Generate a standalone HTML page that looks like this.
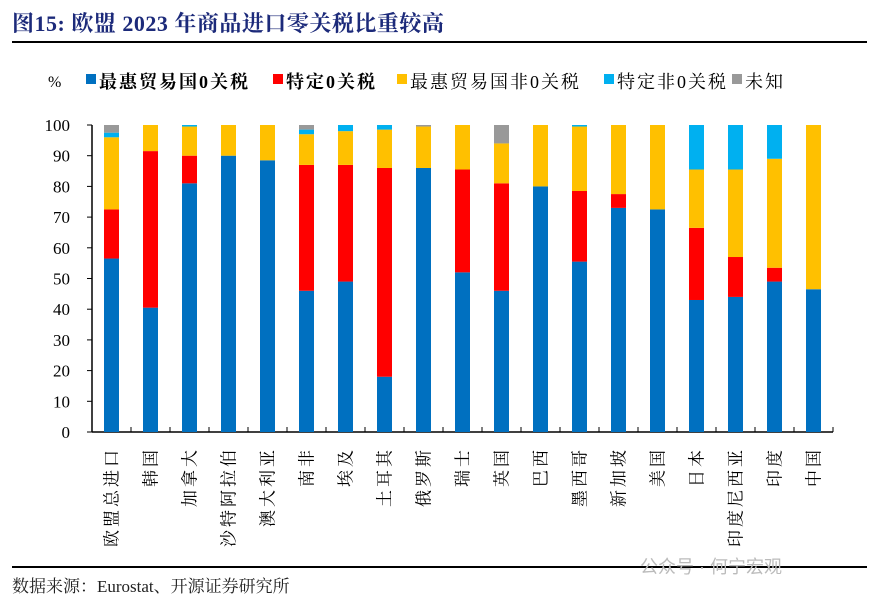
<!DOCTYPE html>
<html><head><meta charset="utf-8">
<style>
body{margin:0;background:#fff;}
svg{display:block;font-family:"Liberation Serif","Noto Serif CJK SC",serif;}
</style></head>
<body>
<svg id="chart" width="870" height="600" viewBox="0 0 870 600">
<text x="12" y="31" font-size="22" font-weight="bold" fill="#1c2a7a" letter-spacing="0.5">图15:  欧盟 2023 年商品进口零关税比重较高</text>
<rect x="12" y="41" width="855" height="2" fill="#000"/>
<g id="legend"></g>
<g id="plot"></g>
<rect x="12" y="566" width="855" height="2" fill="#000"/>
<text x="12" y="592" font-size="17" fill="#222">数据来源：Eurostat、开源证券研究所</text>
<text x="640" y="573" font-size="18" fill="#bbb" font-family="Liberation Sans,Noto Sans CJK SC,sans-serif">公众号 · 何宁宏观</text>
</svg>
<script>
const categories=["欧盟总进口","韩国","加拿大","沙特阿拉伯","澳大利亚","南非","埃及","土耳其","俄罗斯","瑞士","英国","巴西","墨西哥","新加坡","美国","日本","印度尼西亚","印度","中国"];
const mfnZero=[56.5,40.5,81,90,88.5,46,49,18,86,52,46,80,55.5,73,72.5,43,44,49,46.5];
const prefZero=[16,51,9,0,0,41,38,68,0,33.5,35,0,23,4.5,0,23.5,13,4.5,0];
const mfnNonZero=[23.5,8.5,9.5,10,11.5,10,11,12.5,13.5,14.5,13,20,21,22.5,27.5,19,28.5,35.5,53.5];
const prefNonZero=[1.5,0,0.5,0,0,1.5,2,1.5,0,0,0,0,0.5,0,0,14.5,14.5,11,0];
const unknown=[2.5,0,0,0,0,1.5,0,0,0.5,0,6,0,0,0,0,0,0,0,0];
const seriesNames=["最惠贸易国0关税","特定0关税","最惠贸易国非0关税","特定非0关税","未知"];
const yTicks=[0,10,20,30,40,50,60,70,80,90,100];
const series=[mfnZero,prefZero,mfnNonZero,prefNonZero,unknown];
const colors=["#0070c0","#ff0000","#ffc000","#00b0f0","#999999"];
const NS="http://www.w3.org/2000/svg";
const X0=92,X1=833,Y0=432,Y1=125;
const band=(X1-X0)/categories.length;
const y=v=>Y0-(v/100)*(Y0-Y1);
const xc=i=>X0+band*(i+0.5);
function mk(tag,attrs,parent){const e=document.createElementNS(NS,tag);for(const k in attrs)e.setAttribute(k,attrs[k]);parent.appendChild(e);return e;}
const plot=document.getElementById('plot');
const legend=document.getElementById('legend');
const ya=mk('line',{x1:X0,x2:X0,y1:Y1,y2:Y0,stroke:'#000','stroke-width':1.5},plot);


const xa=mk('line',{x1:X0,x2:X1,y1:Y0,y2:Y0,stroke:'#000','stroke-width':1.5},plot);


yTicks.forEach(t=>{
  const tk=mk('line',{x1:X0-5,x2:X0,y1:y(t),y2:y(t),stroke:'#000','stroke-width':1},plot);
  
  
  const lb=mk('text',{x:X0-22,y:y(t)+6,'font-size':17,'text-anchor':'end',fill:'#000'},plot);
  lb.textContent=t;
  
  
});
for(let i=0;i<=categories.length;i++){
  const tk=mk('line',{x1:X0+band*i,x2:X0+band*i,y1:Y0-5,y2:Y0,stroke:'#000','stroke-width':1},plot);
  
  
}
categories.forEach((c,i)=>{
  let base=0;
  series.forEach((s,k)=>{
    const v=s[i];
    if(v>0){
      const r=mk('rect',{x:xc(i)-7.5,y:y(base+v),width:15,height:y(base)-y(base+v),fill:colors[k]},plot);
      
      
    }
    base+=v;
  });
  const t=mk('text',{transform:`translate(${xc(i)+6},447) rotate(-90)`,'font-size':17,'text-anchor':'end','letter-spacing':'3',fill:'#000'},plot);
  t.textContent=c;
  
  
});
const pct=mk('text',{x:48,y:87,'font-size':16,fill:'#000'},legend);
pct.textContent='%';


const legX=[86,273,397,604,732];
seriesNames.forEach((n,k)=>{
  const sw=mk('rect',{x:legX[k],y:74,width:10,height:10,fill:colors[k]},legend);
  
  
  const t=mk('text',{x:legX[k]+13,y:88,'font-size':18,'letter-spacing':'2','font-weight':k<2?'bold':'normal',fill:'#000'},legend);
  t.textContent=n;
  
  
});
</script>
</body></html>
